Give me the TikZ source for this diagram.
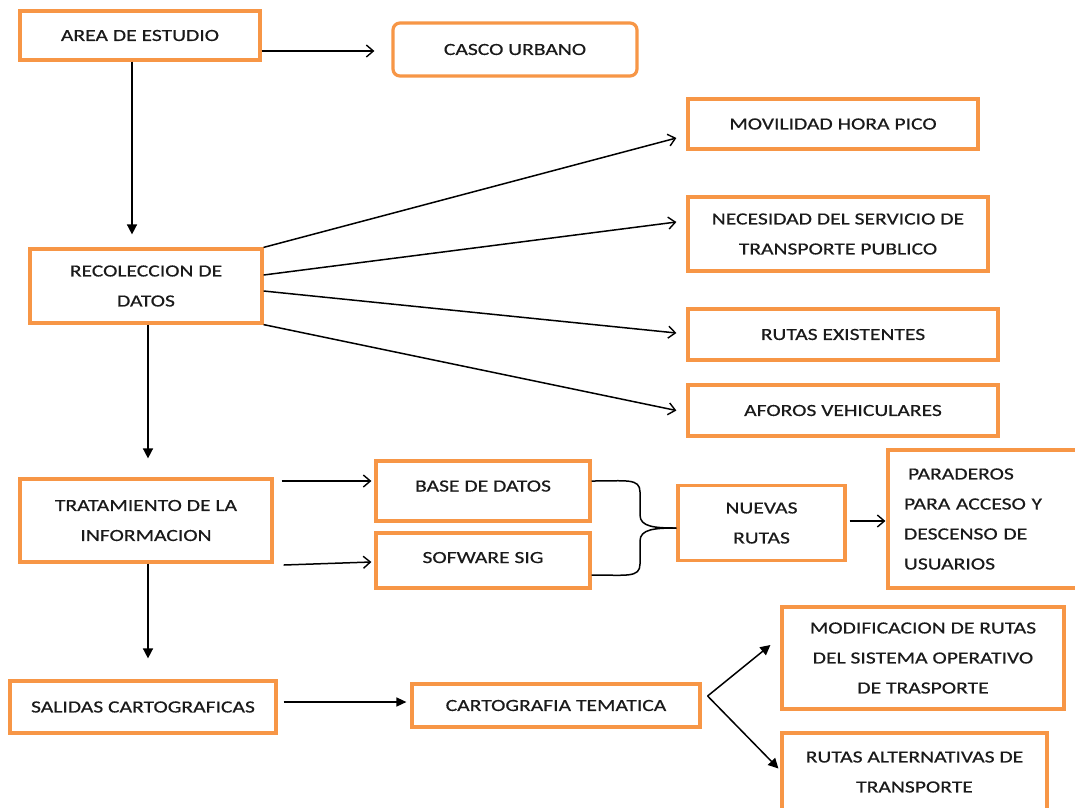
\documentclass[tikz,border=0pt]{standalone}
\usepackage{fontspec}
\setmainfont{Carlito}[FakeStretch=1.27,FakeBold=0.5]
\usetikzlibrary{arrows.meta}
\definecolor{boxor}{HTML}{F79646}
\definecolor{txt}{HTML}{1A1A1A}
\newcommand{\lowr}[1]{\raisebox{-3.5pt}{#1}}
\tikzset{
  box/.style={draw=boxor, line width=3.2pt, rectangle, align=center, inner sep=0pt,
    text=txt, font=\fontsize{17}{30}\selectfont},
  openarr/.style={draw=black, line width=1.5pt, -{Straight Barb[length=7pt,width=12pt,line width=1.4pt]}},
  fillarr/.style={draw=black, line width=1.5pt, -{Triangle[length=10pt,width=10pt]}},
  brace/.style={draw=black, line width=1.5pt},
}
\begin{document}
\begin{tikzpicture}[x=1pt,y=-1pt]
\useasboundingbox (0,0) rectangle (1075,807);
\fill[white] (0,0) rectangle (1075,807);

\node[box, minimum width=240pt, minimum height=49pt] (area) at (140,35.5) {AREA DE ESTUDIO};
\node[box, rounded corners=7pt, minimum width=244pt, minimum height=53pt] (casco) at (515,49.5) {CASCO URBANO};
\node[box, minimum width=232pt, minimum height=74pt] (recol) at (146,286) {RECOLECCION DE\\DATOS};
\node[box, minimum width=290pt, minimum height=50pt] (movil) at (833,124) {MOVILIDAD HORA PICO};
\node[box, minimum width=300pt, minimum height=74pt] (neces) at (838,234) {NECESIDAD DEL SERVICIO DE\\TRANSPORTE PUBLICO};
\node[box, minimum width=310pt, minimum height=51pt] (rutasex) at (843,334.5) {RUTAS EXISTENTES};
\node[box, minimum width=310pt, minimum height=51pt] (aforos) at (843,410.5) {AFOROS VEHICULARES};
\node[box, minimum width=252pt, minimum height=83pt] (trat) at (146,520.5) {TRATAMIENTO DE LA\\INFORMACION};
\node[box, minimum width=214pt, minimum height=60pt] (base) at (483,491) {\raisebox{10pt}{BASE DE DATOS}};
\node[box, minimum width=214pt, minimum height=55pt] (sofware) at (483,560.5) {\raisebox{6pt}{SOFWARE SIG}};
\node[box, minimum width=167pt, minimum height=75pt] (nuevas) at (761.5,523) {NUEVAS\\RUTAS};
\node[box, align=left, text width=160pt, minimum width=192pt, minimum height=138pt] (parad) at (984,519)
  {\hspace{4pt}PARADEROS\\PARA ACCESO Y\\DESCENSO DE\\USUARIOS};
\node[box, minimum width=266pt, minimum height=52pt] (salidas) at (143,707) {SALIDAS CARTOGRAFICAS};
\node[box, minimum width=288pt, minimum height=43pt] (cartog) at (556,705.5) {\raisebox{-1.5pt}{CARTOGRAFIA TEMATICA}};
\node[box, minimum width=282pt, minimum height=102pt] (modif) at (923,658)
  {\lowr{MODIFICACION DE RUTAS}\\\lowr{DEL SISTEMA OPERATIVO}\\\lowr{DE TRASPORTE}};
\node[box, minimum width=265pt, minimum height=78pt] (rutasalt) at (914.5,772) {RUTAS ALTERNATIVAS DE\\TRANSPORTE};

% connectors
\draw[openarr] ([yshift=-15.5pt]area.east) -- ([xshift=-17pt,yshift=-1.5pt]casco.west);
\draw[fillarr] ([xshift=-8pt]area.south) -- ([xshift=-14pt,yshift=13pt]recol.north);

\draw[openarr] (recol.north east) -- ([xshift=-10pt,yshift=-14pt]movil.west);
\draw[openarr] ([yshift=11pt]recol.east) -- ([xshift=-10pt,yshift=12pt]neces.west);
\draw[openarr] ([yshift=-5pt]recol.east) -- ([xshift=-10pt,yshift=1.5pt]rutasex.west);
\draw[openarr] (recol.south east) -- ([xshift=-10pt]aforos.west);

\draw[fillarr] ([xshift=2pt]recol.south) -- ([xshift=2pt,yshift=19pt]trat.north);

\draw[openarr] ([xshift=8pt,yshift=39.5pt]trat.east) -- ([xshift=-3pt,yshift=10pt]base.west);
\draw[openarr] ([xshift=10pt,yshift=-44.5pt]trat.east) -- ([xshift=-3pt,yshift=-1.5pt]sofware.west);

% brace
\coordinate (tip) at ([yshift=-5pt]nuevas.west);
\draw[brace] ([yshift=10pt]base.east) .. controls +(35,0) and (640,478) .. (640,492) -- (640,515)
  .. controls (640,527) and (655,528) .. (tip);
\draw[brace] ([yshift=-14.5pt]sofware.east) .. controls +(35,0) and (640,578) .. (640,564) -- (640,541)
  .. controls (640,529) and (655,528) .. (tip);

\draw[openarr] ([xshift=3pt,yshift=2pt]nuevas.east) -- ([xshift=-1pt,yshift=-2pt]parad.west);

\draw[fillarr] ([xshift=2pt]trat.south) -- ([xshift=5pt,yshift=21pt]salidas.north);
\draw[openarr, -{Triangle[length=10pt,width=9pt]}] ([xshift=6pt,yshift=5pt]salidas.east) -- ([xshift=-4pt,yshift=3.5pt]cartog.west);
\coordinate (fan) at ([xshift=6pt,yshift=9.5pt]cartog.east);
\draw[fillarr] (fan) -- ([xshift=-10pt,yshift=13pt]modif.west);
\draw[fillarr] (fan) -- ([xshift=-2pt,yshift=3.5pt]rutasalt.west);
\end{tikzpicture}
\end{document}
